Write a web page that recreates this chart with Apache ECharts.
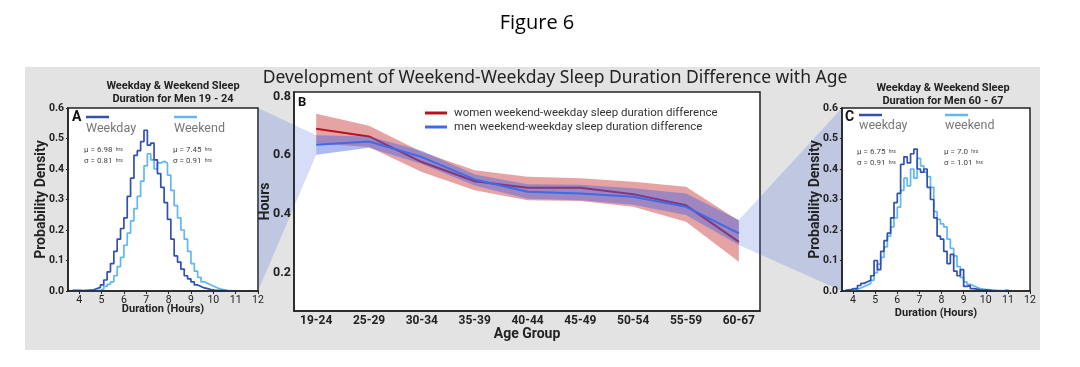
<!DOCTYPE html>
<html>
<head>
<meta charset="utf-8">
<script src="https://cdn.jsdelivr.net/npm/echarts@6/dist/echarts.min.js"></script>
<style>
  html, body { margin: 0; padding: 0; background: #ffffff; }
  #wrap { position: relative; width: 1080px; height: 367px; }
  #panel { position: absolute; left: 25px; top: 67px; width: 1015px; height: 283px; background: #e3e3e3; }
  #chart { position: absolute; left: 0; top: 0; width: 1080px; height: 367px; }
</style>
</head>
<body>
<div id="wrap"><div id="panel"></div><div id="chart"></div></div>
<script>
// ---------- data ----------
const ageGroups = ['19-24','25-29','30-34','35-39','40-44','45-49','50-54','55-59','60-67'];
const womenMean  = [0.690,0.664,0.577,0.512,0.490,0.490,0.468,0.430,0.306];
const womenUpper = [0.741,0.700,0.611,0.549,0.527,0.522,0.510,0.493,0.378];
const womenLower = [0.640,0.628,0.543,0.481,0.447,0.445,0.425,0.374,0.238];
const menMean    = [0.636,0.647,0.594,0.518,0.476,0.470,0.459,0.425,0.335];
const menUpper   = [0.668,0.664,0.615,0.535,0.502,0.500,0.488,0.470,0.380];
const menLower   = [0.602,0.626,0.570,0.497,0.452,0.447,0.432,0.397,0.295];

const hBinStart = 3.6;   // hours, left edge of first bin
const hBinWidth = 0.15;  // hours
const weekdayA = [0.002,0.002,0.002,0.001,0.002,0.003,0.004,0.008,0.012,0.02,
                  0.036,0.063,0.09,0.13,0.17,0.205,0.24,0.31,0.37,0.445,
                  0.46,0.49,0.527,0.478,0.485,0.43,0.385,0.34,0.29,0.235,
                  0.17,0.115,0.095,0.072,0.05,0.04,0.03,0.02,0.015,0.01,
                  0.008,0.005,0.003,0.002,0.001,0.001,0,0,0,0];
const weekendA = [0,0,0,0,0,0,0.001,0.002,0.002,0.006,
                  0.015,0.022,0.03,0.05,0.08,0.11,0.15,0.19,0.23,0.27,
                  0.31,0.36,0.41,0.45,0.43,0.40,0.42,0.425,0.42,0.38,
                  0.33,0.28,0.24,0.2,0.17,0.13,0.09,0.065,0.045,0.03,
                  0.025,0.02,0.015,0.01,0.006,0.004,0.002,0.001,0,0];
const weekdayC = [0.003,0.005,0.008,0.008,0.018,0.025,0.03,0.035,0.05,0.1,
                  0.07,0.13,0.165,0.19,0.24,0.29,0.32,0.415,0.44,0.42,
                  0.45,0.465,0.40,0.39,0.40,0.34,0.30,0.24,0.18,0.17,
                  0.13,0.09,0.12,0.065,0.05,0.07,0.015,0.018,0.008,0.006,
                  0.004,0.003,0.004,0.002,0,0,0,0,0,0];
const weekendC = [0.004,0.003,0.002,0.006,0.01,0.015,0.02,0.025,0.035,0.06,
                  0.088,0.11,0.145,0.18,0.21,0.24,0.275,0.33,0.37,0.345,
                  0.40,0.37,0.435,0.41,0.39,0.375,0.34,0.26,0.235,0.22,
                  0.21,0.17,0.14,0.115,0.08,0.045,0.03,0.022,0.017,0.012,
                  0.008,0.006,0.005,0.004,0.003,0.002,0.001,0.001,0.004,0.001];

const hourTicks = [4,5,6,7,8,9,10,11,12];
const hoursTicks = [0.2,0.4,0.6,0.8];
const statsA = { wdMu: '6.98', wdSd: '0.81', weMu: '7.45', weSd: '0.91' };
const statsC = { wdMu: '6.75', wdSd: '0.91', weMu: '7.0',  weSd: '1.01' };

// ---------- styles ----------
const DARK = '#3150b0';
const LIGHT = '#62b6f4';
const RED = '#b4141e';
const BLUE = '#3f6ae8';
const FONT = 'Roboto, "DejaVu Sans", sans-serif';

function histData(vals) {
  const d = [[hBinStart, 0]];
  vals.forEach((v, i) => d.push([hBinStart + i * hBinWidth, v]));
  d.push([hBinStart + vals.length * hBinWidth, 0]);
  return d;
}
function pairs(arr) { return arr.map((v, i) => [i, v]); }

function histXAxis(gi, gap) {
  return {
    type: 'value', gridIndex: gi, min: 3.5, max: 12, z: 5,
    name: 'Duration (Hours)', nameLocation: 'middle', nameGap: gap, nameMoveOverlap: false,
    nameTextStyle: { fontFamily: FONT, fontWeight: 'bold', fontSize: 11, color: '#222' },
    axisLine: { show: true, onZero: false, lineStyle: { color: '#222', width: 1.5 } },
    axisTick: { show: true, length: 3, customValues: hourTicks, lineStyle: { color: '#222' } },
    axisLabel: { customValues: hourTicks, fontFamily: FONT, fontSize: 10.5, color: '#222', margin: 4 },
    splitLine: { show: false }
  };
}
function histYAxis(gi) {
  return {
    type: 'value', gridIndex: gi, min: 0, max: 0.6, interval: 0.1, z: 5,
    name: 'Probability Density', nameLocation: 'middle', nameGap: 20, nameMoveOverlap: false,
    nameTextStyle: { fontFamily: FONT, fontWeight: 'bold', fontSize: 14, color: '#222' },
    axisLine: { show: true, onZero: false, lineStyle: { color: '#222', width: 1.5 } },
    axisTick: { show: true, length: 2, lineStyle: { color: '#222' } },
    axisLabel: { fontFamily: FONT, fontSize: 10.5, color: '#222', fontWeight: 'bold', margin: 4,
                 formatter: v => v.toFixed(1) },
    splitLine: { show: false }
  };
}
function histSeries(name, vals, color, gi, z) {
  return {
    name, type: 'line', xAxisIndex: gi, yAxisIndex: gi, step: 'end', symbol: 'none',
    data: histData(vals), lineStyle: { color, width: 1.7 }, itemStyle: { color }, z, silent: true
  };
}
// confidence band as one polygon, positioned through the axes
function bandSeries(name, upper, lower, fill, z) {
  return {
    name, type: 'custom', xAxisIndex: 1, yAxisIndex: 1, z, silent: true,
    data: upper.map((v, i) => [i, v, lower[i]]),
    encode: { x: 0, y: [1, 2] },
    renderItem: function (params, api) {
      if (params.dataIndex !== 0) return null;
      const pts = [];
      for (let i = 0; i < upper.length; i++) pts.push(api.coord([i, upper[i]]));
      for (let i = lower.length - 1; i >= 0; i--) pts.push(api.coord([i, lower[i]]));
      return { type: 'polygon', shape: { points: pts }, style: { fill: fill } };
    }
  };
}

function panelTexts(letter, lx, ly, lab1, lab2, x1, x2, lineY, labY, stats, statY) {
  const rich = { a: { fontSize: 8, fill: '#444', fontFamily: FONT }, b: { fontSize: 5, fill: '#444', fontFamily: FONT } };
  return [
    { type: 'text', x: lx, y: ly, z: 10, style: { text: letter, fontSize: 14, fontWeight: 'bold', fill: '#111', fontFamily: FONT, textVerticalAlign: 'middle' } },
    { type: 'line', z: 10, shape: { x1: x1, y1: lineY, x2: x1 + 23, y2: lineY }, style: { stroke: DARK, lineWidth: 2.5 } },
    { type: 'line', z: 10, shape: { x1: x2, y1: lineY, x2: x2 + 23, y2: lineY }, style: { stroke: LIGHT, lineWidth: 2.5 } },
    { type: 'text', x: x1, y: labY, z: 10, style: { text: lab1, fontSize: 12.5, fill: '#777', fontFamily: FONT, textVerticalAlign: 'middle' } },
    { type: 'text', x: x2, y: labY, z: 10, style: { text: lab2, fontSize: 12.5, fill: '#777', fontFamily: FONT, textVerticalAlign: 'middle' } },
    { type: 'text', x: x1 - 2, y: statY, z: 10, style: { text: '{a|\u03bc = ' + stats.wdMu + '} {b|hrs}', rich, textVerticalAlign: 'middle' } },
    { type: 'text', x: x1 - 2, y: statY + 11, z: 10, style: { text: '{a|\u03c3 = ' + stats.wdSd + '} {b|hrs}', rich, textVerticalAlign: 'middle' } },
    { type: 'text', x: x2 - 1, y: statY, z: 10, style: { text: '{a|\u03bc = ' + stats.weMu + '} {b|hrs}', rich, textVerticalAlign: 'middle' } },
    { type: 'text', x: x2 - 1, y: statY + 11, z: 10, style: { text: '{a|\u03c3 = ' + stats.weSd + '} {b|hrs}', rich, textVerticalAlign: 'middle' } }
  ];
}

const chart = echarts.init(document.getElementById('chart'), null, { renderer: 'canvas' });

const option = {
  animation: false,
  backgroundColor: 'transparent',
  title: [
    { text: 'Figure 6', left: 532, top: 8, textAlign: 'center',
      textStyle: { fontFamily: '"Open Sans", sans-serif', fontSize: 20, fontWeight: 'normal', color: '#000' } },
    { text: 'Development of Weekend-Weekday Sleep Duration Difference with Age', left: 550, top: 64, textAlign: 'center',
      textStyle: { fontFamily: '"Noto Sans", sans-serif', fontSize: 17.5, fontWeight: 'normal', color: '#222' } },
    { text: 'Weekday & Weekend Sleep\nDuration for Men 19 - 24', left: 168, top: 74, textAlign: 'center',
      textStyle: { fontFamily: FONT, fontSize: 11, fontWeight: 'bold', color: '#222', lineHeight: 13.5 } },
    { text: 'Weekday & Weekend Sleep\nDuration for Men 60 - 67', left: 938, top: 76, textAlign: 'center',
      textStyle: { fontFamily: FONT, fontSize: 11, fontWeight: 'bold', color: '#222', lineHeight: 13.5 } }
  ],
  grid: [
    { left: 68, top: 108, width: 190, height: 183, show: true, z: 0, backgroundColor: '#fff', borderColor: '#222', borderWidth: 1.5 },
    { left: 294, top: 92, width: 466, height: 219, show: true, z: 0, backgroundColor: '#fff', borderColor: '#222', borderWidth: 1.5 },
    { left: 842, top: 108, width: 188, height: 183, show: true, z: 0, backgroundColor: '#fff', borderColor: '#222', borderWidth: 1.5 }
  ],
  xAxis: [
    histXAxis(0, 13),
    { type: 'value', gridIndex: 1, min: -0.42, max: 8.4, z: 5,
      name: 'Age Group', nameLocation: 'middle', nameGap: 16, nameMoveOverlap: false,
      nameTextStyle: { fontFamily: FONT, fontWeight: 'bold', fontSize: 14, color: '#222' },
      axisLine: { show: true, onZero: false, lineStyle: { color: '#222', width: 1.5 } },
      axisTick: { show: false },
      axisLabel: { customValues: ageGroups.map((_, i) => i), formatter: v => ageGroups[v] || '',
                   fontFamily: FONT, fontWeight: 'bold', fontSize: 12, color: '#222', margin: 4 },
      splitLine: { show: false } },
    histXAxis(2, 17)
  ],
  yAxis: [
    histYAxis(0),
    { type: 'value', gridIndex: 1, min: 0.071, max: 0.815, z: 5,
      name: 'Hours', nameLocation: 'middle', nameGap: 22, nameMoveOverlap: false,
      nameTextStyle: { fontFamily: FONT, fontWeight: 'bold', fontSize: 14, color: '#222' },
      axisLine: { show: true, onZero: false, lineStyle: { color: '#222', width: 1.5 } },
      axisTick: { show: false },
      axisLabel: { customValues: hoursTicks, formatter: v => v.toFixed(1),
                   fontFamily: FONT, fontWeight: 'bold', fontSize: 12.5, color: '#222', margin: 3 },
      splitLine: { show: false } },
    histYAxis(2)
  ],
  legend: {
    left: 420, top: 102, orient: 'vertical', itemGap: 2, itemWidth: 22, itemHeight: 3, icon: 'rect',
    data: ['women weekend-weekday sleep duration difference', 'men weekend-weekday sleep duration difference'],
    textStyle: { fontFamily: FONT, fontSize: 11.5, color: '#333', padding: [0, 0, 0, 2] }
  },
  series: [
    histSeries('weekendA', weekendA, LIGHT, 0, 3),
    histSeries('weekdayA', weekdayA, DARK, 0, 4),
    histSeries('weekendC', weekendC, LIGHT, 2, 3),
    histSeries('weekdayC', weekdayC, DARK, 2, 4),
    bandSeries('wBand', womenUpper, womenLower, 'rgba(200,50,50,0.45)', 3),
    { name: 'women weekend-weekday sleep duration difference', type: 'line', xAxisIndex: 1, yAxisIndex: 1,
      symbol: 'none', data: pairs(womenMean), lineStyle: { color: RED, width: 2 }, itemStyle: { color: RED }, z: 4 },
    bandSeries('mBand', menUpper, menLower, 'rgba(70,100,230,0.45)', 5),
    { name: 'men weekend-weekday sleep duration difference', type: 'line', xAxisIndex: 1, yAxisIndex: 1,
      symbol: 'none', data: pairs(menMean), lineStyle: { color: BLUE, width: 2 }, itemStyle: { color: BLUE }, z: 6 }
  ],
  graphic: [
    { type: 'text', x: 298, y: 103, z: 10, style: { text: 'B', fontSize: 13, fontWeight: 'bold', fill: '#111', fontFamily: FONT, textVerticalAlign: 'middle' } }
  ].concat(
    panelTexts('A', 72, 117, 'Weekday', 'Weekend', 86, 174, 117, 129, statsA, 150),
    panelTexts('C', 845, 117, 'weekday', 'weekend', 859, 945, 115, 126, statsC, 152)
  )
};
chart.setOption(option);

// connecting wedges from histogram panels to the band ends in panel B
const pA1 = chart.convertToPixel({ xAxisIndex: 0, yAxisIndex: 0 }, [12, 0.6]);
const pA2 = chart.convertToPixel({ xAxisIndex: 0, yAxisIndex: 0 }, [12, 0]);
const pB1 = chart.convertToPixel({ xAxisIndex: 1, yAxisIndex: 1 }, [0, menUpper[0]]);
const pB2 = chart.convertToPixel({ xAxisIndex: 1, yAxisIndex: 1 }, [0, menLower[0]]);
const last = ageGroups.length - 1;
const pB3 = chart.convertToPixel({ xAxisIndex: 1, yAxisIndex: 1 }, [last, menUpper[last]]);
const pB4 = chart.convertToPixel({ xAxisIndex: 1, yAxisIndex: 1 }, [last, menLower[last]]);
const pC1 = chart.convertToPixel({ xAxisIndex: 2, yAxisIndex: 2 }, [3.5, 0.6]);
const pC2 = chart.convertToPixel({ xAxisIndex: 2, yAxisIndex: 2 }, [3.5, 0]);
const wedgeStyle = { fill: 'rgba(70,100,220,0.22)' };
chart.setOption({
  graphic: [
    { id: 'wedgeL', type: 'polygon', z: 1, silent: true, shape: { points: [pA1, pB1, pB2, pA2] }, style: wedgeStyle },
    { id: 'wedgeR', type: 'polygon', z: 1, silent: true, shape: { points: [pB3, pC1, pC2, pB4] }, style: wedgeStyle }
  ]
});
</script>
</body>
</html>
